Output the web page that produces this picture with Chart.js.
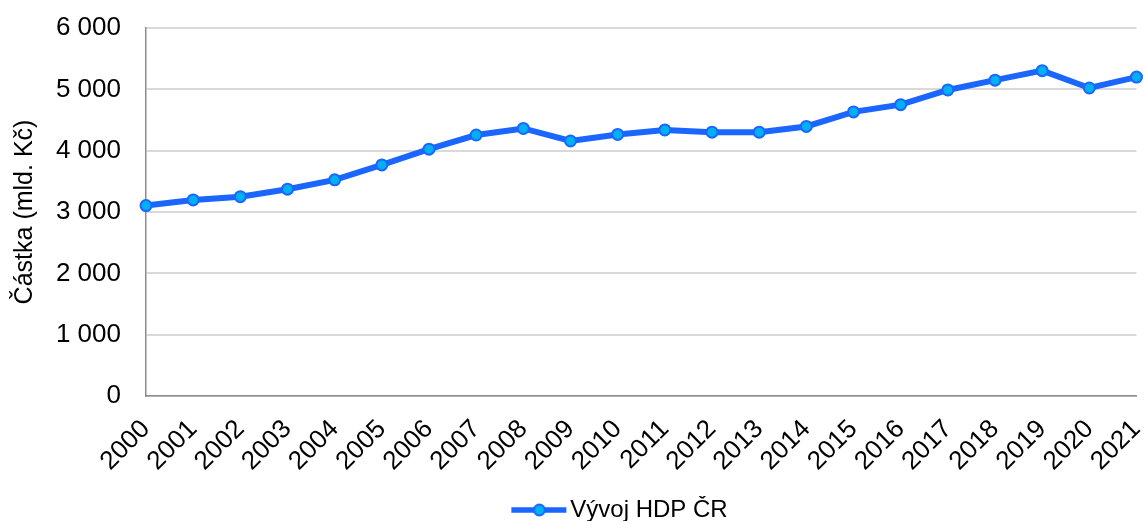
<!DOCTYPE html>
<html>
<head>
<meta charset="utf-8">
<script src="https://cdn.jsdelivr.net/npm/chart.js@4/dist/chart.umd.min.js"></script>
<style>
  html, body { margin: 0; padding: 0; background: #fff; }
  #wrap { width: 1144px; height: 521px; }
</style>
</head>
<body>
<div id="wrap"><canvas id="chartHdp"></canvas></div>
<script>
// data
const years = ['2000', '2001', '2002', '2003', '2004', '2005', '2006', '2007', '2008', '2009', '2010',
               '2011', '2012', '2013', '2014', '2015', '2016', '2017', '2018', '2019', '2020', '2021'];
const hdp = [3105, 3197, 3250, 3372, 3524, 3768, 4025, 4255, 4362, 4158, 4265,
             4338, 4302, 4302, 4395, 4632, 4750, 4990, 5150, 5305, 5022, 5200];
const seriesName = 'Vývoj HDP ČR';
const yTitle = 'Částka (mld. Kč)';

const BLUE = '#1a66ff';
const CYAN = '#00b0f0';
const FONT = '"Liberation Sans", Arial, sans-serif';

// legend marker: line with a dot in the middle
function legendMarker() {
    const c = document.createElement('canvas');
    c.width = 64; c.height = 16;
    const g = c.getContext('2d');
    g.strokeStyle = BLUE;
    g.lineWidth = 5.5;
    g.beginPath(); g.moveTo(8, 8); g.lineTo(63, 8); g.stroke();
    g.beginPath(); g.arc(36, 8, 5.5, 0, Math.PI * 2);
    g.fillStyle = CYAN; g.fill();
    g.lineWidth = 2; g.stroke();
    return c;
}

function czNum(v) {
    return String(v).replace(/\B(?=(\d{3})+(?!\d))/g, ' ');
}

// nudge the legend to where the reference has it
const legendShift = {
    id: 'legendShift',
    afterLayout(chart) {
        const lg = chart.legend;
        if (!lg) return;
        lg.left += 47; lg.right += 47;
        lg.top += 11; lg.bottom += 11;
    }
};

document.addEventListener('DOMContentLoaded', function() {
    Chart.defaults.font.family = FONT;
    Chart.defaults.font.size = 25;
    Chart.defaults.color = '#000';

    const marker = legendMarker();
    const ctx = document.getElementById('chartHdp').getContext('2d');
    new Chart(ctx, {
        type: 'line',
        data: {
            labels: years,
            datasets: [{
                label: seriesName,
                data: hdp,
                borderColor: BLUE,
                borderWidth: 6,
                backgroundColor: CYAN,
                pointBackgroundColor: CYAN,
                pointBorderColor: BLUE,
                pointBorderWidth: 2,
                pointRadius: 5.5,
                tension: 0
            }]
        },
        options: {
            responsive: true,
            maintainAspectRatio: false,
            animation: false,
            layout: { padding: { top: 28, left: 6, right: 4, bottom: 0 } },
            plugins: {
                tooltip: { enabled: false },
                legend: {
                    position: 'bottom',
                    labels: {
                        usePointStyle: true,
                        pointStyleWidth: 46,
                        padding: 2,
                        font: { size: 24 },
                        generateLabels: () => [{
                            text: seriesName,
                            pointStyle: marker,
                            fillStyle: CYAN,
                            strokeStyle: BLUE,
                            lineWidth: 0,
                            datasetIndex: 0
                        }]
                    }
                }
            },
            scales: {
                x: {
                    grid: { display: false, drawTicks: false },
                    border: { color: '#8c8c8c', width: 1.5 },
                    ticks: { minRotation: 45, maxRotation: 45, padding: 18, autoSkip: false, font: { size: 26 } },
                    afterFit: (s) => { s.height = 89; s.paddingRight = 0; }
                },
                y: {
                    min: 0,
                    max: 6000,
                    grid: { color: '#d9d9d9', lineWidth: 2, drawTicks: false },
                    border: { color: '#8c8c8c', width: 1.5 },
                    ticks: { stepSize: 1000, padding: 25, font: { size: 26 }, callback: (v) => czNum(v) },
                    title: { display: true, text: yTitle, padding: { top: 4, bottom: 4 }, font: { size: 25 } },
                    afterFit: (s) => { s.width = 140; s.paddingTop = 0; s.paddingBottom = 0; }
                }
            }
        },
        plugins: [legendShift]
    });
});
</script>
</body>
</html>
